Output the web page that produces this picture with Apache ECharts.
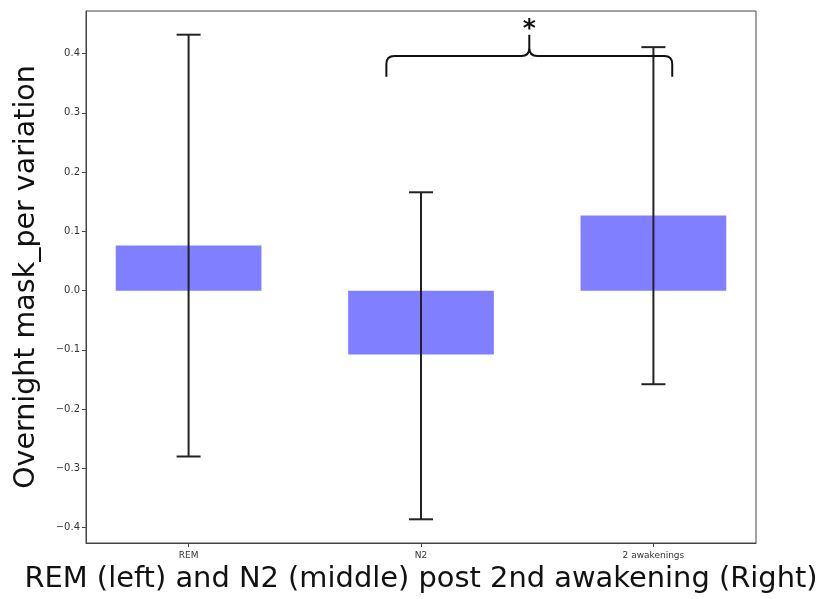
<!DOCTYPE html>
<html>
<head>
<meta charset="utf-8">
<script src="https://cdn.jsdelivr.net/npm/echarts@6/dist/echarts.min.js"></script>
<style>html,body{margin:0;padding:0;background:#fff}#c{width:817px;height:599px}</style>
</head>
<body>
<div id="c"></div>
<script>
// ---- data ----
var categories = ['REM', 'N2', '2 awakenings'];
var means = [0.076, -0.108, 0.127];
var errLow = [-0.280, -0.386, -0.158];
var errHigh = [0.432, 0.166, 0.411];
var yTicks = [-0.4, -0.3, -0.2, -0.1, 0.0, 0.1, 0.2, 0.3, 0.4];
var xTicks = [0, 1, 2];
// significance brace: [left x, center x, right x], [end y, bar y, tip y]
var braceX = [0.851, 1.466, 2.081];
var braceY = [0.361, 0.396, 0.432];
var starY = 0.440;

var chart = echarts.init(document.getElementById('c'), null, {renderer: 'canvas'});
var font = 'DejaVu Sans';
var barHalf = 0.3135;

var option = {
  animation: false,
  backgroundColor: '#ffffff',
  grid: {left: 86, top: 11, right: 61, bottom: 56, show: true, borderColor: '#444', borderWidth: 1,
    containLabel: false, outerBoundsMode: 'none'},
  xAxis: {
    type: 'value', min: -0.4414, max: 2.4414,
    name: 'REM (left) and N2 (middle) post 2nd awakening (Right)',
    nameLocation: 'middle', nameGap: 22,
    nameTextStyle: {fontFamily: font, fontSize: 28.9, color: '#111'},
    axisLine: {show: true, onZero: false, lineStyle: {color: '#444'}},
    axisTick: {show: true, customValues: xTicks, length: 4, lineStyle: {color: '#444'}},
    axisLabel: {customValues: xTicks, fontFamily: font, fontSize: 9, color: '#333', margin: 8,
      formatter: function (v) { return categories[Math.round(v)]; }},
    splitLine: {show: false}
  },
  yAxis: {
    type: 'value', min: -0.426, max: 0.472,
    name: 'Overnight mask_per variation',
    nameLocation: 'middle', nameGap: 45, nameRotate: 90,
    nameTextStyle: {fontFamily: font, fontSize: 28.5, color: '#111'},
    axisLine: {show: true, onZero: false, lineStyle: {color: '#444'}},
    axisTick: {show: true, customValues: yTicks, length: 4, lineStyle: {color: '#444'}},
    axisLabel: {customValues: yTicks, fontFamily: font, fontSize: 10, color: '#333', margin: 6,
      formatter: function (v) { var s = Math.abs(v).toFixed(1); return (v < -1e-9 ? '\u2212' : '') + s; }},
    splitLine: {show: false}
  },
  series: [
    {
      type: 'custom', name: 'bars',
      data: means.map(function (m, i) { return [i, m]; }),
      renderItem: function (params, api) {
        var x = api.value(0), v = api.value(1);
        var p1 = api.coord([x - barHalf, Math.max(v, 0)]);
        var p2 = api.coord([x + barHalf, Math.min(v, 0)]);
        return {type: 'rect', shape: {x: p1[0], y: p1[1], width: p2[0] - p1[0], height: p2[1] - p1[1]},
          style: {fill: 'rgba(0,0,255,0.5)'}};
      },
      z: 2
    },
    {
      type: 'custom', name: 'errors',
      data: means.map(function (m, i) { return [i, errLow[i], errHigh[i]]; }),
      renderItem: function (params, api) {
        var x = api.value(0);
        var lo = api.coord([x, api.value(1)]);
        var hi = api.coord([x, api.value(2)]);
        var cap = 12;
        var st = {stroke: '#222', lineWidth: 2};
        return {type: 'group', children: [
          {type: 'line', shape: {x1: lo[0], y1: lo[1], x2: hi[0], y2: hi[1]}, style: st},
          {type: 'line', shape: {x1: lo[0] - cap, y1: lo[1], x2: lo[0] + cap, y2: lo[1]}, style: st},
          {type: 'line', shape: {x1: hi[0] - cap, y1: hi[1], x2: hi[0] + cap, y2: hi[1]}, style: st}
        ]};
      },
      z: 3
    },
    {
      type: 'custom', name: 'brace',
      data: [[braceX[0], braceX[1], braceX[2], braceY[0], braceY[1], braceY[2], starY]],
      renderItem: function (params, api) {
        var L = api.coord([api.value(0), api.value(4)]);
        var C = api.coord([api.value(1), api.value(4)]);
        var R = api.coord([api.value(2), api.value(4)]);
        var yEnd = api.coord([api.value(0), api.value(3)])[1];
        var yTip = api.coord([api.value(1), api.value(5)])[1];
        var yStar = api.coord([api.value(1), api.value(6)])[1];
        var yh = L[1], r = 8;
        var d = 'M' + L[0] + ' ' + yEnd +
          ' L' + L[0] + ' ' + (yh + r) +
          ' Q' + L[0] + ' ' + yh + ' ' + (L[0] + r) + ' ' + yh +
          ' L' + (C[0] - r) + ' ' + yh +
          ' Q' + C[0] + ' ' + yh + ' ' + C[0] + ' ' + (yh - r) +
          ' L' + C[0] + ' ' + yTip +
          ' M' + C[0] + ' ' + (yh - r) +
          ' Q' + C[0] + ' ' + yh + ' ' + (C[0] + r) + ' ' + yh +
          ' L' + (R[0] - r) + ' ' + yh +
          ' Q' + R[0] + ' ' + yh + ' ' + R[0] + ' ' + (yh + r) +
          ' L' + R[0] + ' ' + yEnd;
        return {type: 'group', children: [
          {type: 'path', shape: {pathData: d}, style: {stroke: '#111', lineWidth: 2, fill: null}},
          {type: 'text', x: C[0], y: yStar, style: {text: '*', fontFamily: font, fontSize: 25, fontWeight: 'bold', fill: '#111', align: 'center', verticalAlign: 'middle'}}
        ]};
      },
      z: 4
    }
  ]
};
chart.setOption(option);
</script>
</body>
</html>
